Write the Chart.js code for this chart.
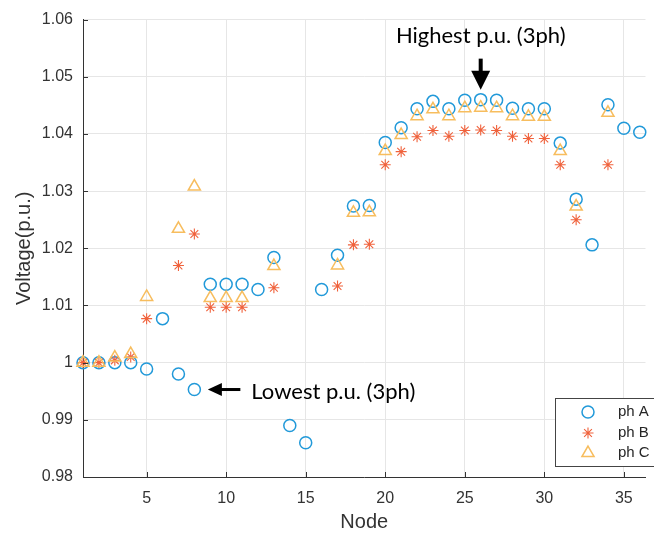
<!DOCTYPE html>
<html lang="en">
<head>
  <meta charset="UTF-8" />
  <title>Node Voltage Profile</title>
  <script src="https://cdn.jsdelivr.net/npm/chart.js"></script>
  <style>
    html, body { margin: 0; padding: 0; background: #fff; }
    canvas { display: block; }
  </style>
</head>
<body>
  <canvas id="voltChart" width="654" height="533"></canvas>

  <script>
    // per-node voltages (p.u.), null where the phase is not present
    const nodes = [1, 2, 3, 4, 5, 6, 7, 8, 9, 10, 11, 12, 13, 14, 15, 16, 17, 18,
                   19, 20, 21, 22, 23, 24, 25, 26, 27, 28, 29, 30, 31, 32, 33, 34, 35, 36];
    const phA = [1.0000, 1.0000, 1.0000, 1.0000, 0.9989, 1.0077, 0.9980, 0.9953, 1.0137, 1.0137,
                 1.0137, 1.0128, 1.0184, 0.9890, 0.9860, 1.0128, 1.0188, 1.0274, 1.0275, 1.0385,
                 1.0411, 1.0444, 1.0457, 1.0444, 1.0459, 1.0460, 1.0459, 1.0445, 1.0444, 1.0444,
                 1.0384, 1.0286, 1.0206, 1.0451, 1.0410, 1.0403];
    const phB = [1.0000, 1.0000, 1.0004, 1.0010, 1.0077, null, 1.0170, 1.0225, 1.0097, 1.0097,
                 1.0097, null, 1.0131, null, null, null, 1.0134, 1.0206, 1.0207, 1.0346,
                 1.0369, 1.0395, 1.0406, 1.0396, 1.0406, 1.0407, 1.0406, 1.0396, 1.0392, 1.0392,
                 1.0346, 1.0250, null, 1.0346, null, null];
    const phC = [1.0000, 1.0000, 1.0009, 1.0015, 1.0115, null, 1.0234, 1.0308, 1.0113, 1.0113,
                 1.0113, null, 1.0169, null, null, null, 1.0170, 1.0262, 1.0263, 1.0370,
                 1.0398, 1.0431, 1.0443, 1.0431, 1.0445, 1.0446, 1.0445, 1.0431, 1.0430, 1.0430,
                 1.0370, 1.0273, null, 1.0437, null, null];

    const seriesNames = ["ph A", "ph B", "ph C"];
    const xTicks = [5, 10, 15, 20, 25, 30, 35];
    const yTicks = [0.98, 0.99, 1.00, 1.01, 1.02, 1.03, 1.04, 1.05, 1.06];
    const yTickLabels = ["0.98", "0.99", "1", "1.01", "1.02", "1.03", "1.04", "1.05", "1.06"];

    const highNode = 26;
    const lowNode = 8;

    const colors = ["#2199d9", "#f0623c", "#f7bd5e"];
    const styles = ["circle", "star", "triangle"];
    const radii = [6, 5.5, 7];
    const widths = [1.5, 1.1, 1.5];
    const AXIS = "#333333";
    const FONT = "'Liberation Sans', Arial, sans-serif";

    function toPoints(ys) {
      return nodes.map((n, i) => ({ x: n, y: ys[i] })).filter(p => p.y !== null);
    }

    function drawArrow(ctx, x1, y1, x2, y2, headLen, headWidth, shaft) {
      const ang = Math.atan2(y2 - y1, x2 - x1);
      const len = Math.hypot(x2 - x1, y2 - y1);
      ctx.save();
      ctx.translate(x1, y1);
      ctx.rotate(ang);
      ctx.fillStyle = "#000";
      ctx.fillRect(0, -shaft / 2, len - headLen + 1, shaft);
      ctx.beginPath();
      ctx.moveTo(len, 0);
      ctx.lineTo(len - headLen, -headWidth / 2);
      ctx.lineTo(len - headLen, headWidth / 2);
      ctx.closePath();
      ctx.fill();
      ctx.restore();
    }

    // inward tick marks, the boxed legend and the two callouts
    const extras = {
      id: "extras",
      afterDatasetsDraw(chart) {
        const { ctx, chartArea: area, scales: { x, y } } = chart;

        ctx.save();
        ctx.strokeStyle = AXIS;
        ctx.lineWidth = 1;
        ctx.beginPath();
        xTicks.forEach(v => {
          const px = Math.round(x.getPixelForValue(v)) + 0.5;
          ctx.moveTo(px, area.bottom);
          ctx.lineTo(px, area.bottom - 5);
        });
        yTicks.forEach(v => {
          const py = Math.round(y.getPixelForValue(v)) + 0.5;
          ctx.moveTo(area.left, py);
          ctx.lineTo(area.left + 5, py);
        });
        ctx.stroke();

        // legend box
        ctx.fillStyle = "#fff";
        ctx.fillRect(555.5, 398.5, 120, 68);
        ctx.strokeStyle = "#444";
        ctx.strokeRect(555.5, 398.5, 120, 68);
        ctx.font = "15px " + FONT;
        ctx.textBaseline = "middle";
        ctx.textAlign = "left";
        [412, 433, 453].forEach((ry, i) => {
          ctx.strokeStyle = colors[i];
          ctx.fillStyle = "rgba(0,0,0,0)";
          ctx.lineWidth = widths[i];
          Chart.helpers.drawPoint(ctx, {
            pointStyle: styles[i], radius: radii[i], rotation: 0, borderWidth: widths[i]
          }, 588, ry);
          ctx.fillStyle = "#262626";
          ctx.fillText(seriesNames[i], 618, ry);
        });

        // callouts
        const hx = x.getPixelForValue(highNode);
        const hy = y.getPixelForValue(phA[highNode - 1]);
        drawArrow(ctx, hx, hy - 41, hx, hy - 10, 19, 19, 4);
        ctx.font = "22px Lato, 'Noto Sans', sans-serif";
        ctx.fillStyle = "#000";
        ctx.textAlign = "center";
        ctx.fillText("Highest p.u. (3ph)", hx, hy - 64);

        const lx = x.getPixelForValue(lowNode);
        const ly = y.getPixelForValue(phA[lowNode - 1]);
        drawArrow(ctx, lx + 46, ly, lx + 13.5, ly, 14, 13, 3);
        ctx.textAlign = "left";
        ctx.fillText("Lowest p.u. (3ph)", lx + 57, ly + 2);
        ctx.restore();
      }
    };

    new Chart(document.getElementById("voltChart"), {
      type: "scatter",
      data: {
        datasets: [phA, phB, phC].map((ys, i) => ({
          label: seriesNames[i],
          data: toPoints(ys),
          pointStyle: styles[i],
          pointRadius: radii[i],
          pointHoverRadius: radii[i],
          pointBorderWidth: widths[i],
          borderColor: colors[i],
          pointBackgroundColor: "rgba(0,0,0,0)",
          backgroundColor: "rgba(0,0,0,0)",
          showLine: false,
          clip: false,
          order: 3 - i
        }))
      },
      plugins: [extras],
      options: {
        responsive: false,
        animation: false,
        layout: { padding: { top: 17, right: 0, left: 0, bottom: 0 } },
        plugins: {
          legend: { display: false },
          tooltip: { enabled: false }
        },
        scales: {
          x: {
            type: "linear",
            min: 1,
            max: 36.36,
            afterBuildTicks: s => { s.ticks = xTicks.map(v => ({ value: v })); },
            afterFit: s => { s.height = 56; s.paddingLeft = 0; s.paddingRight = 0; },
            grid: { color: "#e6e6e6", drawTicks: false },
            border: { color: AXIS },
            ticks: {
              padding: 12,
              color: AXIS,
              font: { family: FONT, size: 16 }
            },
            title: {
              display: true,
              text: "Node",
              color: AXIS,
              padding: { top: 0, bottom: -1 },
              font: { family: FONT, size: 20 }
            }
          },
          y: {
            min: 0.98,
            max: 1.06,
            afterBuildTicks: s => { s.ticks = yTicks.map(v => ({ value: v })); },
            afterFit: s => { s.width = 83; },
            grid: { color: "#e6e6e6", drawTicks: false },
            border: { color: AXIS },
            ticks: {
              padding: 10,
              color: AXIS,
              font: { family: FONT, size: 16 },
              callback: (v, i) => yTickLabels[i]
            },
            title: {
              display: true,
              text: "Voltage(p.u.)",
              color: AXIS,
              padding: { top: 12, bottom: 0 },
              font: { family: FONT, size: 20 }
            }
          }
        }
      }
    });
  </script>
</body>
</html>
